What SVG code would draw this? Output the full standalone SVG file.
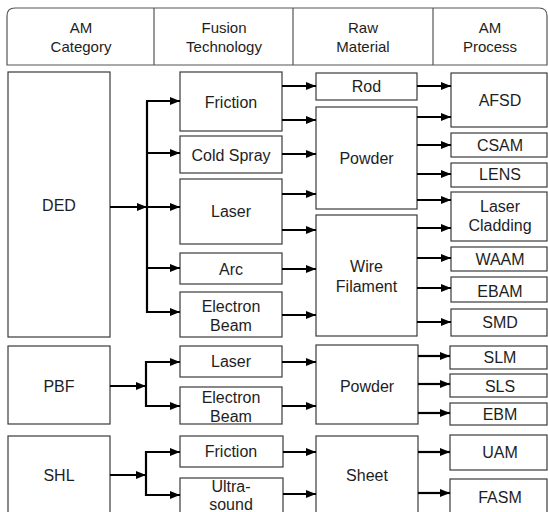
<svg xmlns="http://www.w3.org/2000/svg" width="548" height="512" viewBox="0 0 548 512">
<style>
.b{fill:#fff;stroke:#3a3a3a;stroke-width:1.2}
.t{font-family:"Liberation Sans",Arial,sans-serif;font-size:16px;fill:#1e1e1e;text-anchor:middle}
.h{font-family:"Liberation Sans",Arial,sans-serif;font-size:15px;fill:#1e1e1e;text-anchor:middle}
.a{stroke:#000;stroke-width:2.2;fill:none}
.a2{stroke:#000;stroke-width:2.2;fill:none;marker-end:url(#ah)}
</style>
<defs>
<marker id="ah" viewBox="0 0 10 8" refX="10" refY="4" markerWidth="10" markerHeight="8" markerUnits="userSpaceOnUse" orient="auto"><path d="M0,0 L10,4 L0,8 z" fill="#000"/></marker>
</defs>
<rect width="548" height="512" fill="#fff"/>
<g id="header">
<path d="M7,65 L7,16 Q7,8 15,8 L539,8 Q547,8 547,16 L547,65 Z" fill="#fff" stroke="#555" stroke-width="1.2"/>
<line x1="154" y1="8" x2="154" y2="65" stroke="#555" stroke-width="1.2"/>
<line x1="293" y1="8" x2="293" y2="65" stroke="#555" stroke-width="1.2"/>
<line x1="433" y1="8" x2="433" y2="65" stroke="#555" stroke-width="1.2"/>
<text class="h" x="81" y="33">AM</text><text class="h" x="81" y="52">Category</text>
<text class="h" x="224" y="33">Fusion</text><text class="h" x="224" y="52">Technology</text>
<text class="h" x="363" y="33">Raw</text><text class="h" x="363" y="52">Material</text>
<text class="h" x="490" y="33">AM</text><text class="h" x="490" y="52">Process</text>
</g>
<g id="DED"><rect class="b" x="8" y="72" width="102" height="265"/><text class="t" x="59" y="211">DED</text></g>
<g id="PBF"><rect class="b" x="8" y="346" width="102" height="78"/><text class="t" x="59" y="392">PBF</text></g>
<g id="SHL"><rect class="b" x="8" y="436" width="102" height="85"/><text class="t" x="59" y="481">SHL</text></g>
<g id="ded-friction"><rect class="b" x="180" y="72" width="102" height="59"/><text class="t" x="231" y="108">Friction</text></g>
<g id="ded-coldspray"><rect class="b" x="180" y="136" width="102" height="37"/><text class="t" x="231" y="161">Cold Spray</text></g>
<g id="ded-laser"><rect class="b" x="180" y="179" width="102" height="65"/><text class="t" x="231" y="217">Laser</text></g>
<g id="ded-arc"><rect class="b" x="180" y="253" width="102" height="31"/><text class="t" x="231" y="275">Arc</text></g>
<g id="ded-ebeam"><rect class="b" x="180" y="292" width="102" height="45"/><text class="t" x="231" y="312">Electron</text><text class="t" x="231" y="331">Beam</text></g>
<g id="pbf-laser"><rect class="b" x="180" y="346" width="102" height="31"/><text class="t" x="231" y="367">Laser</text></g>
<g id="pbf-ebeam"><rect class="b" x="180" y="387" width="102" height="37"/><text class="t" x="231" y="403">Electron</text><text class="t" x="231" y="422">Beam</text></g>
<g id="shl-friction"><rect class="b" x="180" y="436" width="103" height="31"/><text class="t" x="231" y="457">Friction</text></g>
<g id="shl-ultrasound"><rect class="b" x="180" y="478" width="103" height="43"/><text class="t" x="231" y="492">Ultra-</text><text class="t" x="231" y="510">sound</text></g>
<g id="rod"><rect class="b" x="316" y="73" width="101" height="27"/><text class="t" x="366.5" y="92">Rod</text></g>
<g id="ded-powder"><rect class="b" x="316" y="107" width="101" height="102"/><text class="t" x="366.5" y="164">Powder</text></g>
<g id="wire"><rect class="b" x="316" y="215" width="101" height="121"/><text class="t" x="366.5" y="272">Wire</text><text class="t" x="366.5" y="292">Filament</text></g>
<g id="pbf-powder"><rect class="b" x="316" y="345" width="102" height="79"/><text class="t" x="367" y="392">Powder</text></g>
<g id="sheet"><rect class="b" x="316" y="436" width="102" height="85"/><text class="t" x="367" y="481">Sheet</text></g>
<g id="afsd"><rect class="b" x="451" y="73" width="96" height="54"/><text class="t" x="500" y="106">AFSD</text></g>
<g id="csam"><rect class="b" x="451" y="133" width="96" height="24"/><text class="t" x="500" y="151">CSAM</text></g>
<g id="lens"><rect class="b" x="451" y="163" width="96" height="24"/><text class="t" x="500" y="180">LENS</text></g>
<g id="cladding"><rect class="b" x="451" y="192" width="96" height="49"/><text class="t" x="500" y="212">Laser</text><text class="t" x="500" y="231">Cladding</text></g>
<g id="waam"><rect class="b" x="451" y="247" width="96" height="24"/><text class="t" x="500" y="265">WAAM</text></g>
<g id="ebam"><rect class="b" x="451" y="277" width="96" height="25"/><text class="t" x="500" y="297">EBAM</text></g>
<g id="smd"><rect class="b" x="451" y="309" width="96" height="27"/><text class="t" x="500" y="328">SMD</text></g>
<g id="slm"><rect class="b" x="450" y="346" width="97" height="23"/><text class="t" x="500" y="363">SLM</text></g>
<g id="sls"><rect class="b" x="450" y="374" width="97" height="23"/><text class="t" x="500" y="392">SLS</text></g>
<g id="ebm"><rect class="b" x="450" y="403" width="97" height="22"/><text class="t" x="500" y="420">EBM</text></g>
<g id="uam"><rect class="b" x="450" y="435" width="97" height="35"/><text class="t" x="500" y="458">UAM</text></g>
<g id="fasm"><rect class="b" x="450" y="479" width="97" height="42"/><text class="t" x="500" y="503">FASM</text></g>
<g id="connectors">
<line class="a2" x1="110" y1="207" x2="147" y2="207"/>
<line class="a" x1="147" y1="101" x2="147" y2="313"/>
<line class="a2" x1="146" y1="101" x2="180" y2="101"/>
<line class="a2" x1="146" y1="153" x2="180" y2="153"/>
<line class="a2" x1="146" y1="207" x2="180" y2="207"/>
<line class="a2" x1="146" y1="268" x2="180" y2="268"/>
<line class="a2" x1="146" y1="312" x2="180" y2="312"/>
<line class="a2" x1="282" y1="86" x2="316" y2="86"/>
<line class="a2" x1="282" y1="120" x2="316" y2="120"/>
<line class="a2" x1="282" y1="154" x2="316" y2="154"/>
<line class="a2" x1="282" y1="194" x2="316" y2="194"/>
<line class="a2" x1="282" y1="230" x2="316" y2="230"/>
<line class="a2" x1="282" y1="269" x2="316" y2="269"/>
<line class="a2" x1="282" y1="315" x2="316" y2="315"/>
<line class="a2" x1="417" y1="86" x2="451" y2="86"/>
<line class="a2" x1="417" y1="117" x2="451" y2="117"/>
<line class="a2" x1="417" y1="145" x2="451" y2="145"/>
<line class="a2" x1="417" y1="174" x2="451" y2="174"/>
<line class="a2" x1="417" y1="200" x2="451" y2="200"/>
<line class="a2" x1="417" y1="228" x2="451" y2="228"/>
<line class="a2" x1="417" y1="258" x2="451" y2="258"/>
<line class="a2" x1="417" y1="288" x2="451" y2="288"/>
<line class="a2" x1="417" y1="322" x2="451" y2="322"/>
<line class="a2" x1="110" y1="386" x2="146" y2="386"/>
<line class="a" x1="146" y1="361" x2="146" y2="407"/>
<line class="a2" x1="145" y1="362" x2="180" y2="362"/>
<line class="a2" x1="145" y1="406" x2="180" y2="406"/>
<line class="a2" x1="282" y1="362" x2="316" y2="362"/>
<line class="a2" x1="282" y1="406" x2="316" y2="406"/>
<line class="a2" x1="418" y1="356" x2="450" y2="356"/>
<line class="a2" x1="418" y1="384" x2="450" y2="384"/>
<line class="a2" x1="418" y1="413" x2="450" y2="413"/>
<line class="a2" x1="110" y1="475" x2="146" y2="475"/>
<line class="a" x1="146" y1="451" x2="146" y2="496"/>
<line class="a2" x1="145" y1="452" x2="180" y2="452"/>
<line class="a2" x1="145" y1="495" x2="180" y2="495"/>
<line class="a2" x1="283" y1="452" x2="316" y2="452"/>
<line class="a2" x1="283" y1="494" x2="316" y2="494"/>
<line class="a2" x1="418" y1="452" x2="450" y2="452"/>
<line class="a2" x1="418" y1="493" x2="450" y2="493"/>
</g>
</svg>
